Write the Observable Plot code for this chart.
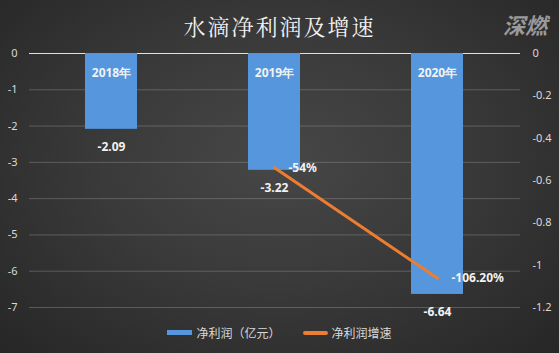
<!DOCTYPE html>
<html><head><meta charset="utf-8">
<script src="https://cdn.jsdelivr.net/npm/d3@7"></script>
<script src="https://cdn.jsdelivr.net/npm/@observablehq/plot@0.6"></script>
<style>
html,body{margin:0;padding:0;}
#wrap{position:relative;width:559px;height:353px;overflow:hidden;
 background:radial-gradient(ellipse at 50% 45%, #474747 0%, #3a3a3a 45%, #262626 100%);
 font-family:"Noto Sans CJK SC","Noto Sans",sans-serif;}
#title{position:absolute;left:0;width:559px;top:10px;text-align:center;color:#f2f2f2;font-size:22px;
 font-family:"Noto Serif CJK SC","Noto Sans CJK SC",serif;letter-spacing:2px;}
#logo{position:absolute;right:12px;top:8px;color:#9a9a9a;font-size:22px;font-weight:bold;font-style:italic;}
#legend{position:absolute;top:324px;left:0;width:559px;display:flex;justify-content:center;gap:22px;color:#d9d9d9;font-size:12px;}
.item{display:flex;align-items:center;gap:4px;}
.sw{display:inline-block;width:25px;height:5px;}
#chart{position:absolute;left:0;top:0;}
</style></head><body>
<div id="wrap"><div id="chart"></div>
<div id="title">水滴净利润及增速</div>
<div id="logo">深燃</div>
<div id="legend"><span class="item"><span class="sw" style="background:#5596dc"></span>净利润（亿元）</span><span class="item"><span class="sw" style="background:#ed7d31;height:4px;border-radius:2px"></span>净利润增速</span></div>
</div>
<script>
const years = ["2018年", "2019年", "2020年"];
const profit = [-2.09, -3.22, -6.64];
const growthYears = ["2019年", "2020年"];
const growth = [-0.54, -1.062];
const growthLabels = ["-54%", "-106.20%"];
const leftTicks = [0, -1, -2, -3, -4, -5, -6, -7];
const rightTicks = [0, -0.2, -0.4, -0.6, -0.8, -1, -1.2];
const ratio = 7 / 1.2;

const bars = years.map((y, i) => ({year: y, v: profit[i]}));
const pts = growthYears.map((y, i) => ({year: y, g: growth[i] * ratio, label: growthLabels[i]}));

const chart = Plot.plot({
  width: 559, height: 353,
  marginTop: 53, marginBottom: 46, marginLeft: 29, marginRight: 39,
  style: {background: "transparent", color: "#d9d9d9", fontSize: "11px", fontFamily: "'Noto Sans', sans-serif"},
  x: {domain: years, paddingInner: 0.68, paddingOuter: 0.34, axis: null},
  y: {domain: [-7, 0], axis: null},
  marks: [
    Plot.gridY(leftTicks, {stroke: "#9a9a9a", strokeOpacity: 0.4}),
    Plot.ruleY([0], {stroke: "#e0e0e0", strokeWidth: 1}),
    Plot.axisY(leftTicks, {anchor: "left", tickSize: 0, tickPadding: 12, fill: "#d9d9d9", tickFormat: d => d}),
    Plot.axisY(rightTicks.map(t => t * ratio), {anchor: "right", tickSize: 0, tickPadding: 12, fill: "#d9d9d9", textAnchor: "start", tickFormat: d => String(+(d / ratio).toFixed(1))}),
    Plot.barY(bars, {x: "year", y: "v", fill: "#5596dc"}),
    Plot.text(bars, {x: "year", y: 0, text: "year", dy: 20, fill: "#f2f2f2", fontWeight: "bold", fontSize: 12}),
    Plot.text(bars, {x: "year", y: "v", text: d => d.v.toFixed(2), dy: 18, fill: "#f2f2f2", fontWeight: "bold", fontSize: 12}),
    Plot.line(pts, {x: "year", y: "g", stroke: "#ed7d31", strokeWidth: 3}),
    Plot.text(pts, {x: "year", y: "g", text: "label", dx: 14, textAnchor: "start", fill: "#f2f2f2", fontWeight: "bold", fontSize: 12})
  ]
});
document.getElementById("chart").appendChild(chart);
</script>
</body></html>
